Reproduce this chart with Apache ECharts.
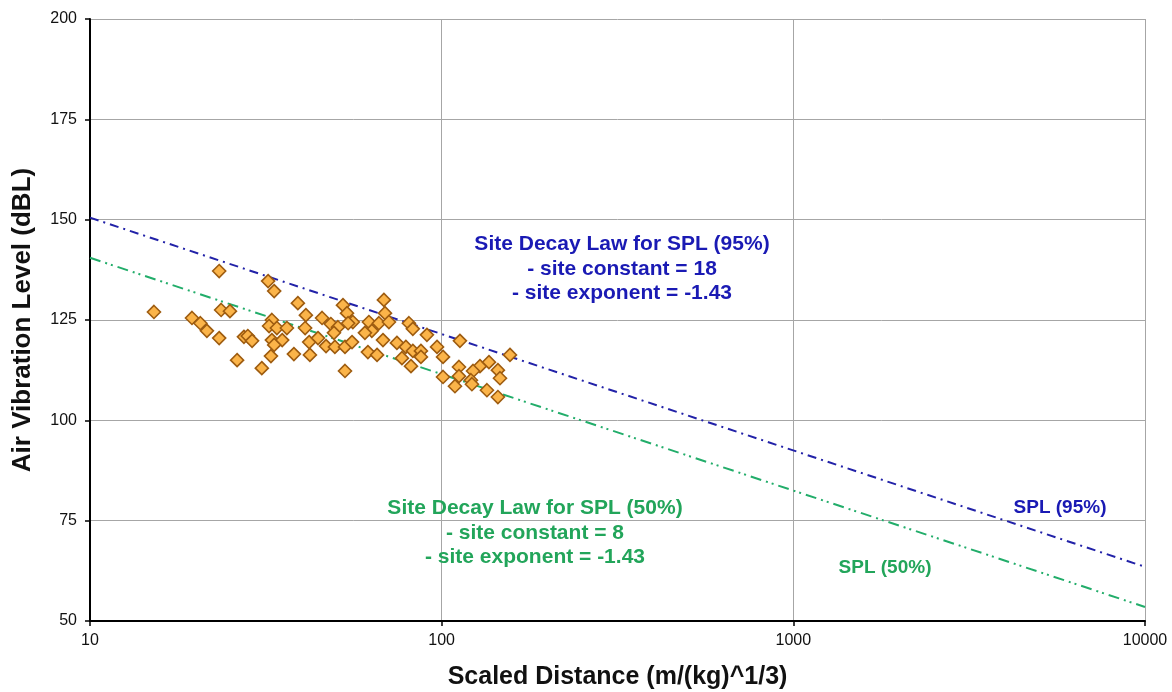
<!DOCTYPE html>
<html>
<head>
<meta charset="utf-8">
<script src="https://cdn.jsdelivr.net/npm/echarts@6/dist/echarts.min.js"></script>
<style>html,body{margin:0;padding:0;background:#fff}#c{width:1172px;height:692px}</style>
</head>
<body>
<div id="c"></div>
<script>
// Scatter data: [scaled distance, air vibration level dBL]
const scaledDistance = [15.2,23.3,19.5,20.6,21.5,23.3,23.6,25.0,26.2,27.4,28.1,28.9,30.8,32.1,33.4,39.0,41.1,32.9,32.3,34.0,36.3,32.9,35.2,33.4,32.7,38.0,42.2,40.9,45.7,42.0,44.5,46.9,48.4,50.7,52.4,53.8,49.4,49.7,53.1,53.1,55.9,54.2,55.6,62.1,63.3,60.5,66.3,68.5,69.0,70.8,68.1,61.7,65.5,74.6,79.1,82.8,87.3,77.1,87.3,81.8,80.7,82.8,90.8,97.0,100.9,112.7,156.4,112.0,128.5,136.3,122.8,144.5,100.9,112.0,121.1,146.5,109.1,121.9,134.5,144.5];
const airVibration = [127.0,137.2,125.5,124.2,122.3,120.5,127.5,127.2,115.0,120.8,121.0,119.8,113.0,134.7,132.2,129.2,126.2,125.0,123.5,123.0,123.0,120.0,120.0,118.8,116.0,116.5,116.3,123.0,125.5,119.5,120.5,118.5,124.0,123.2,128.7,126.7,121.8,118.3,118.3,112.3,124.5,124.2,119.5,124.5,122.3,121.8,124.2,130.0,126.7,124.5,120.0,117.0,116.3,119.3,118.3,117.3,117.3,115.5,115.8,113.5,124.2,122.8,121.3,118.3,115.8,119.8,116.3,113.3,113.5,114.5,112.3,112.5,110.8,111.0,110.0,110.5,108.5,109.0,107.5,105.8];
// Decay law lines (endpoints)
const lineX = [10, 10000];
const spl95 = [150.5, 63.5];
const spl50 = [140.5, 53.5];
const yTicks = [50, 75, 100, 125, 150, 175, 200];
const xTicks = [10, 100, 1000, 10000];

const scatterData = scaledDistance.map((x, i) => [x, airVibration[i]]);
const line95 = lineX.map((x, i) => [x, spl95[i]]);
const line50 = lineX.map((x, i) => [x, spl50[i]]);

const blue = '#1a1ab4';
const green = '#22a55a';
const font = '"Liberation Sans", Arial, sans-serif';

function txt(x, y, text, fill, size) {
  return { type: 'text', x: x, y: y, z: 10,
    style: { text: text, fill: fill, font: 'bold ' + size + 'px ' + font, align: 'center', verticalAlign: 'middle' } };
}

const chart = echarts.init(document.getElementById('c'));
chart.setOption({
  animation: false,
  backgroundColor: '#fff',
  grid: { left: 90, right: 27, top: 19, bottom: 71, containLabel: false, outerBoundsMode: 'none' },
  xAxis: {
    type: 'log', logBase: 10, min: xTicks[0], max: xTicks[xTicks.length - 1],
    axisLine: { show: true, onZero: false, lineStyle: { color: '#000', width: 2 } },
    axisTick: { show: true, inside: false, length: 5, lineStyle: { color: '#000', width: 1.5 } },
    minorTick: { show: false },
    splitLine: { show: true, lineStyle: { color: '#a6a6a6', width: 1 } },
    axisLabel: { color: '#111', fontSize: 16, fontFamily: font, margin: 12, formatter: v => String(Math.round(v)) },
    name: 'Scaled Distance (m/(kg)^1/3)', nameLocation: 'middle', nameGap: 44,
    nameTextStyle: { color: '#111', fontSize: 25, fontWeight: 'bold', fontFamily: font }
  },
  yAxis: {
    type: 'value', min: yTicks[0], max: yTicks[yTicks.length - 1], interval: 25,
    axisLine: { show: true, onZero: false, lineStyle: { color: '#000', width: 2 } },
    axisTick: { show: true, inside: false, length: 5, lineStyle: { color: '#000', width: 1.5 } },
    splitLine: { show: true, lineStyle: { color: '#a6a6a6', width: 1 } },
    axisLabel: { color: '#111', fontSize: 16, fontFamily: font, margin: 13 },
    name: 'Air Vibration Level (dBL)', nameLocation: 'middle', nameGap: 54, nameRotate: 90,
    nameTextStyle: { color: '#111', fontSize: 26, fontWeight: 'bold', fontFamily: font }
  },
  series: [
    {
      type: 'line', data: line95, symbol: 'none', silent: true, z: 3,
      lineStyle: { color: '#2222a8', width: 2, type: [9, 5, 2, 5] }
    },
    {
      type: 'line', data: line50, symbol: 'none', silent: true, z: 3,
      lineStyle: { color: '#22ad6a', width: 2, type: [11, 5, 2, 4, 2, 5] }
    },
    {
      type: 'scatter', data: scatterData, symbol: 'diamond', symbolSize: 13, z: 4,
      itemStyle: { color: '#fbb449', borderColor: '#9e5c10', borderWidth: 1.6, opacity: 1 }
    }
  ],
  graphic: [
    txt(622, 244, 'Site Decay Law for SPL (95%)', blue, 21),
    txt(622, 269, '- site constant = 18', blue, 21),
    txt(622, 293, '- site exponent = -1.43', blue, 21),
    txt(535, 508, 'Site Decay Law for SPL (50%)', green, 21),
    txt(535, 533, '- site constant = 8', green, 21),
    txt(535, 557, '- site exponent = -1.43', green, 21),
    txt(1060, 508, 'SPL (95%)', blue, 19),
    txt(885, 568, 'SPL (50%)', green, 19)
  ]
});
</script>
</body>
</html>
